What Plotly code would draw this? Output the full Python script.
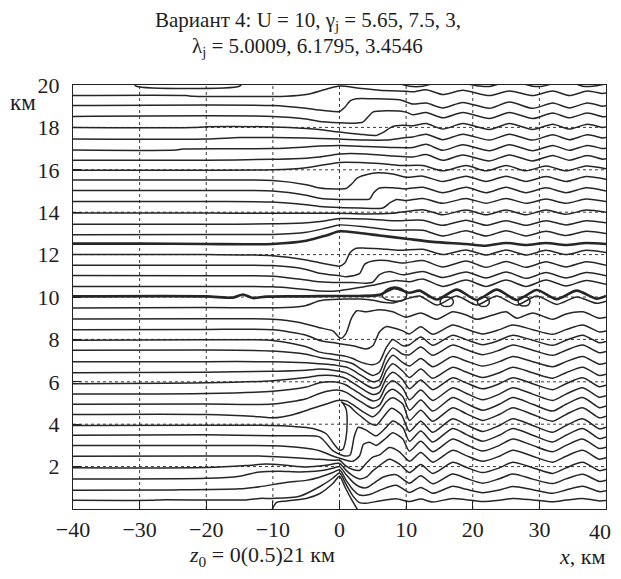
import plotly.graph_objects as go

# ---------------- axes ----------------
X_TICKS = [-40, -30, -20, -10, 0, 10, 20, 30, 40]
Y_TICKS = [2, 4, 6, 8, 10, 12, 14, 16, 18, 20]
GRID_X = [-30, -20, -10, 0, 10, 20, 30]
GRID_Y = [2, 4, 6, 8, 10, 12, 14, 16, 18]

# shared downstream knots (km) used by several streamlines
XD_LOW = [10.5, 12.2, 14, 17, 19, 21.5, 24, 26, 29, 32, 34, 36.5, 39, 40]
XE = [12.5, 15.5, 19, 22, 25, 28, 31, 34, 37, 40]
XGD = [11, 13, 15.5, 18.5, 22.5, 25.5, 29, 32, 34.5, 37.2, 39.5, 40]
NX_LEE = [-40, -20, -10, -5, -3, -1, 0, 1, 2, 3, 4, 5, 6, 7, 8, 9.5]
XF = [-40, -20, -10, -5, -2, 0, 4, 8, 12.5, 15.5, 19, 22, 25, 28, 31, 34, 37, 40]

# ---------------- streamlines near the ground (z0 = 0 ... 2.5) ----------------
s00_x = [-40, -10.2, -10.0, -9.5, -8, -5, -3, -1, 0, 0.8, 1.8, 2.8]
s00_z = [-0.05, -0.05, 0.05, 0.3, 0.38, 0.5, 0.72, 1.2, 1.55, 1.05, 0.45, -0.08]

s05_x = [-40, -28, -27, -14, -12, -10, -6, -3, -1, 0, 1, 2, 3, 4, 6, 8.5]
s05_z = [0.41, 0.41, 0.43, 0.43, 0.5, 0.5, 0.6, 1.05, 1.45, 1.7, 1.15, 0.62, 0.3, 0.27, 0.38, 0.48]
s05_d = [0.35, 0.47, 0.33, 0.5, 0.44, 0.35, 0.41, 0.5, 0.43, 0.34, 0.42, 0.5, 0.38, 0.4]

s10_x = [-40, -25, -15, -12, -8, -5, -3, -1, 0, 1, 2, 3, 4.5, 6, 8.5]
s10_z = [0.89, 0.9, 0.95, 1.05, 1.25, 1.35, 1.5, 1.72, 1.85, 1.35, 0.92, 0.66, 0.68, 0.88, 1.12]
s10_d = [0.78, 1.02, 0.74, 1.07, 0.93, 0.77, 0.9, 1.06, 0.91, 0.74, 0.9, 1.07, 0.82, 0.86]

s15_x = [-40, -20, -15, -12, -9, -6, -3, -1, 0, 1, 2, 3, 4, 5, 6.5, 8.5]
s15_z = [1.42, 1.45, 1.55, 1.75, 1.78, 1.75, 1.8, 1.92, 2.0, 1.62, 1.27, 1.05, 1.0, 1.18, 1.5, 1.62]
s15_d = [1.22, 1.57, 1.19, 1.65, 1.45, 1.22, 1.43, 1.65, 1.41, 1.2, 1.42, 1.64, 1.3, 1.36]

s20_x = [-40, -20, -14, -11, -8, -5, -2, 0, 1, 2, 3, 4, 5, 6, 7.5, 9]
s20_z = [1.94, 1.96, 2.05, 2.12, 2.06, 1.98, 2.06, 2.15, 1.82, 1.56, 1.42, 1.5, 1.8, 2.05, 2.35, 2.12]
s20_d = [1.72, 2.1, 1.68, 2.2, 1.97, 1.72, 1.94, 2.21, 1.95, 1.68, 1.94, 2.2, 1.81, 1.88]

s25_x = [-40, -20, -12, -8, -4, -1, 0, 1, 2, 3, 4, 5, 6, 7.5, 9]
s25_z = [2.49, 2.5, 2.5, 2.44, 2.36, 2.3, 2.3, 2.02, 1.86, 1.82, 2.15, 2.45, 2.55, 2.9, 2.7]
s25_d = [2.25, 2.67, 2.21, 2.77, 2.52, 2.25, 2.49, 2.77, 2.49, 2.21, 2.49, 2.77, 2.35, 2.42]

# ---------------- separation zone (z0 = 3 ... 4.5) ----------------
s30_x = [-40, -20, -10, -6, -3, -1, 0, 1, 2, 3, 3.6, 4.5, 5.5, 7, 8, 9.5]
s30_z = [3.0, 3.0, 2.98, 2.9, 2.75, 2.5, 2.4, 2.3, 2.25, 2.5, 3.05, 3.15, 3.0, 3.35, 3.6, 3.3]
s30_d = [2.73, 3.19, 2.7, 3.3, 3.04, 2.73, 3.0, 3.3, 3.0, 2.7, 3.0, 3.3, 2.85, 2.92]

s35_x = [-40, -20, -10, -6, -3, -1, 0, 0.8, 1.6, 2.2, 2.8, 4, 5.5, 7, 8, 9.5]
s35_z = [3.48, 3.5, 3.45, 3.45, 3.4, 2.75, 2.58, 2.5, 2.55, 3.4, 3.85, 3.72, 3.45, 3.85, 4.15, 3.85]
s35_d = [3.2, 3.68, 3.16, 3.8, 3.52, 3.2, 3.48, 3.8, 3.48, 3.16, 3.48, 3.8, 3.32, 3.4]

s40_x = [-40, -20, -12, -8, -4, -2, -0.8, 0, 0.5, 0.95, 1.15, 1.0, 0.6, 0.3, 0.7, 1.5, 2.5,
         3.5, 4.5, 5.5, 6.5, 7.8, 9.3]
s40_z = [3.94, 3.95, 3.95, 3.92, 3.8, 3.55, 3.05, 2.78, 2.82, 3.3, 4.2, 4.7, 4.95, 5.05, 4.98,
         4.85, 4.55, 4.3, 4.05, 3.95, 4.3, 4.75, 4.45]
s40_d = [3.66, 4.14, 3.62, 4.26, 3.98, 3.66, 3.94, 4.26, 3.94, 3.62, 3.94, 4.26, 3.78, 3.86]

s45_x = [-40, -20, -12, -10, -7, -4, -2, -0.3, 1, 2, 3, 4, 5, 6, 7, 8, 9.5]
s45_z = [4.46, 4.46, 4.35, 4.3, 4.45, 4.75, 4.95, 5.12, 5.1, 4.92, 4.7, 4.5, 4.35, 4.6, 5.05, 5.25, 4.95]
s45_d = [4.18, 4.66, 4.14, 4.78, 4.5, 4.18, 4.46, 4.78, 4.46, 4.14, 4.46, 4.78, 4.3, 4.38]

# ---------------- lee-wave layer (z0 = 5 ... 8.5), knots at NX_LEE ----------------
s50_z = [4.94, 4.95, 4.95, 5.2, 5.45, 5.6, 5.6, 5.5, 5.3, 5.1, 4.9, 4.75, 4.9, 5.45, 5.65, 5.3]
s50_d = [4.66, 5.14, 4.62, 5.26, 4.98, 4.66, 4.94, 5.26, 4.94, 4.62, 4.94, 5.26, 4.78, 4.86]
s55_z = [5.42, 5.45, 5.55, 5.75, 5.95, 6.0, 5.95, 5.85, 5.65, 5.45, 5.25, 5.1, 5.2, 5.8, 6.05, 5.7]
s55_d = [5.15, 5.61, 5.12, 5.72, 5.46, 5.15, 5.42, 5.72, 5.42, 5.12, 5.42, 5.72, 5.27, 5.34]
s60_z = [5.91, 5.95, 6.05, 6.2, 6.3, 6.3, 6.25, 6.15, 5.95, 5.75, 5.55, 5.4, 5.5, 6.15, 6.45, 6.1]
s60_d = [5.67, 6.09, 5.63, 6.19, 5.95, 5.67, 5.91, 6.19, 5.91, 5.63, 5.91, 6.19, 5.77, 5.84]
s65_z = [6.43, 6.45, 6.5, 6.55, 6.6, 6.55, 6.5, 6.42, 6.25, 6.05, 5.85, 5.7, 5.8, 6.5, 6.85, 6.5]
s65_d = [6.2, 6.6, 6.17, 6.69, 6.46, 6.2, 6.43, 6.69, 6.43, 6.17, 6.43, 6.69, 6.3, 6.36]
s70_z = [6.95, 6.95, 6.95, 6.9, 6.85, 6.8, 6.75, 6.7, 6.55, 6.35, 6.15, 6.0, 6.1, 6.85, 7.25, 6.9]
s70_d = [6.74, 7.1, 6.71, 7.19, 6.98, 6.74, 6.95, 7.19, 6.95, 6.71, 6.95, 7.19, 6.83, 6.89]
s75_z = [7.49, 7.5, 7.45, 7.3, 7.15, 7.05, 7.0, 6.95, 6.85, 6.65, 6.45, 6.3, 6.45, 7.2, 7.6, 7.3]
s75_d = [7.28, 7.64, 7.25, 7.73, 7.52, 7.28, 7.49, 7.73, 7.49, 7.25, 7.49, 7.73, 7.37, 7.43]
s80_z = [7.96, 7.98, 7.95, 7.65, 7.4, 7.3, 7.25, 7.2, 7.1, 6.95, 6.85, 6.8, 6.95, 7.6, 8.0, 7.7]
s80_d = [7.75, 8.11, 7.72, 8.2, 7.99, 7.75, 7.96, 8.2, 7.96, 7.72, 7.96, 8.2, 7.84, 7.9]
s85_z = [8.46, 8.47, 8.45, 8.2, 7.95, 7.85, 7.8, 7.75, 7.7, 7.62, 7.55, 7.7, 8.35, 8.6, 8.55, 8.4]
s85_d = [8.26, 8.6, 8.24, 8.68, 8.49, 8.26, 8.46, 8.68, 8.46, 8.24, 8.46, 8.68, 8.35, 8.4]

# ---------------- trapped-wave layer (z0 = 9 ... 10.5) ----------------
s90_x = [-40, -20, -10, -6, -3, -1, 0.2, 1, 1.8, 2.6, 4, 6, 8, 10, 12.2, 14.6, 17, 19, 20.6,
         23, 25, 26.6, 29, 32, 34, 36.5, 39, 40]
s90_z = [8.96, 8.97, 8.95, 8.8, 8.55, 8.4, 8.05, 8.3, 9.0, 9.35, 9.3, 9.4, 9.3, 9.05, 9.25,
         8.95, 9.3, 9.15, 8.95, 9.15, 9.3, 9.0, 9.25, 8.95, 9.2, 9.3, 9.0, 9.05]
s95_x = [-40, -20, -8, -5, -3, -1, 1, 3, 5, 6.5, 8, 10, 12, 14.6, 17.6, 20.6, 23.6, 26.6,
         29.6, 32.6, 35.6, 38.6, 40]
s95_z = [9.48, 9.5, 9.5, 9.6, 9.82, 9.88, 9.9, 9.9, 9.85, 9.75, 9.72, 9.9, 10.05, 9.62,
         10.05, 9.62, 10.05, 9.62, 10.05, 9.65, 10.0, 9.7, 9.8]
s100_x = [-40, -20, -16, -14.5, -13, -11, -5, 0, 3, 6, 8.2, 10.5, 12, 14.6, 17.6, 20.6,
          23.6, 26.6, 29.6, 32.6, 35.6, 38.6, 40]
s100_z = [10.03, 10.03, 9.97, 10.12, 9.95, 10.02, 10.03, 10.05, 10.05, 10.1, 10.42, 10.2,
          10.3, 9.88, 10.35, 9.86, 10.35, 9.86, 10.33, 9.9, 10.3, 9.92, 10.05]
s105_x = [-40, -20, -10, -5, -3, 0, 3, 5, 7, 8.5, 10.5, 12.5, 15.5, 19, 22, 25, 28, 31, 34, 37, 40]
s105_z = [10.5, 10.5, 10.48, 10.35, 10.28, 10.3, 10.45, 10.55, 10.7, 10.78, 10.72, 10.85,
          10.5, 10.8, 10.5, 10.8, 10.5, 10.8, 10.52, 10.78, 10.6]

# closed eddies along the z ~ 10 km line
loop1_x = [6.4, 6.9, 7.8, 8.8, 9.7, 10.1, 9.7, 8.8, 7.8, 6.9, 6.4]
loop1_z = [10.05, 10.3, 10.45, 10.45, 10.3, 10.1, 9.88, 9.8, 9.82, 9.9, 10.05]
loop2_x = [15.1, 15.4, 16.1, 16.8, 17.1, 16.8, 16.1, 15.4, 15.1]
loop2_z = [9.78, 9.95, 10.0, 9.95, 9.78, 9.6, 9.55, 9.6, 9.78]
loop3_x = [20.7, 21.0, 21.6, 22.2, 22.5, 22.2, 21.6, 21.0, 20.7]
loop3_z = [9.78, 9.95, 10.0, 9.95, 9.78, 9.6, 9.55, 9.6, 9.78]
loop4_x = [26.8, 27.1, 27.7, 28.3, 28.6, 28.3, 27.7, 27.1, 26.8]
loop4_z = [9.8, 9.97, 10.02, 9.97, 9.8, 9.62, 9.58, 9.62, 9.8]

# ---------------- middle layer (z0 = 11 ... 12.5) ----------------
s110_x = [-40, -20, -10, -5, -3, 0, 2, 4, 5, 6, 7.5, 9.5]
s110_z = [11.01, 11.0, 10.98, 10.8, 10.72, 10.68, 10.68, 10.65, 10.7, 11.05, 11.2, 11.05]
s110_d = [11.2, 10.92, 11.18, 10.9, 11.18, 10.88, 11.15, 10.9, 11.15, 11.0]
s115_x = [-40, -20, -10, -5, -3, 0, 1, 2, 3, 3.8, 5, 7, 9.5]
s115_z = [11.5, 11.5, 11.48, 11.3, 11.12, 11.0, 10.96, 11.0, 11.1, 11.55, 11.7, 11.72, 11.6]
s115_d = [11.72, 11.42, 11.7, 11.4, 11.68, 11.4, 11.66, 11.42, 11.66, 11.5]
s120_x = [-40, -20, -10, -5, -3, -1, 0, 0.8, 1.6, 2.5, 4, 6, 9]
s120_z = [12.01, 12.0, 11.95, 11.75, 11.62, 11.5, 11.45, 11.6, 12.1, 12.3, 12.3, 12.28, 12.2]
s120_d = [12.25, 12.0, 12.22, 11.98, 12.22, 11.98, 12.2, 12.0, 12.2, 12.1]
s125_x = [-40, -30, -20, -10, -5, -2, 0, 3, 6, 10, 14, 19, 22, 25, 28, 31, 34, 37, 40]
s125_z = [12.52, 12.52, 12.5, 12.5, 12.65, 12.9, 13.1, 13.02, 12.9, 12.75, 12.6, 12.5,
          12.42, 12.55, 12.45, 12.55, 12.45, 12.55, 12.5]

# ---------------- upper-middle layer (z0 = 13 ... 16) ----------------
s130_z = [12.94, 12.95, 12.95, 13.05, 13.25, 13.4, 13.3, 13.15, 13.15, 12.88, 13.12, 12.88,
          13.12, 12.88, 13.1, 12.9, 13.1, 13.0]
s135_z = [13.43, 13.43, 13.45, 13.5, 13.6, 13.7, 13.68, 13.6, 13.62, 13.38, 13.62, 13.38,
          13.6, 13.38, 13.6, 13.4, 13.6, 13.5]
s140_z = [13.96, 13.96, 13.95, 13.95, 13.95, 13.95, 13.92, 13.95, 14.12, 13.88, 14.1, 13.88,
          14.1, 13.88, 14.1, 13.9, 14.1, 14.0]
s145_x = [-40, -20, -10, -5, -3, 0, 3, 6.5, 7.6, 8.6, 10, 12.5, 15.5, 19, 22, 25, 28, 31, 34, 37, 40]
s145_z = [14.5, 14.5, 14.48, 14.35, 14.27, 14.22, 14.2, 14.2, 14.45, 14.6, 14.55, 14.65,
          14.42, 14.65, 14.42, 14.65, 14.42, 14.62, 14.42, 14.62, 14.5]
s150_x = [-40, -20, -10, -5, -3, 0, 3, 4.5, 5.1, 6, 8, 10, 12.5, 15.5, 19, 22, 25, 28, 31, 34, 37, 40]
s150_z = [15.02, 15.02, 15.0, 14.8, 14.66, 14.6, 14.6, 14.62, 14.9, 15.14, 15.15, 15.1,
          15.18, 14.92, 15.18, 14.92, 15.18, 14.92, 15.15, 14.92, 15.15, 15.0]
s155_x = [-40, -20, -10, -5, -3, 0, 1, 1.9, 2.6, 5, 8, 10, 12.5, 15.5, 19, 22, 25, 28, 31, 34, 37, 40]
s155_z = [15.52, 15.52, 15.5, 15.3, 15.14, 15.1, 15.12, 15.35, 15.6, 15.84, 15.8, 15.65,
          15.7, 15.45, 15.7, 15.45, 15.7, 15.45, 15.68, 15.45, 15.68, 15.55]
s160_x = [-40, -20, -10, -5, -3, 0, 3, 6, 9, 12.5, 15.5, 19, 22, 25, 28, 31, 34, 37, 40]
s160_z = [15.98, 15.98, 16.0, 16.1, 16.2, 16.35, 16.35, 16.3, 16.2, 16.2, 15.95, 16.2,
          15.95, 16.2, 15.95, 16.18, 15.95, 16.18, 16.05]

# ---------------- upper layer (z0 = 16.5 ... 20) ----------------
s165_x = [-40, -20, -10, -5, -3, 0, 4, 8]
s165_z = [16.45, 16.45, 16.5, 16.55, 16.6, 16.75, 16.75, 16.65]
s165_d = [16.6, 16.72, 16.45, 16.7, 16.42, 16.7, 16.42, 16.68, 16.45, 16.68, 16.5, 16.52]
s170_x = [-40, -24.5, -23.5, -10, -5, -3, 0, 4, 8]
s170_z = [16.93, 16.93, 16.98, 17.0, 17.08, 17.12, 17.15, 17.1, 17.05]
s170_d = [17.05, 17.2, 16.92, 17.18, 16.9, 17.18, 16.9, 17.15, 16.92, 17.15, 17.0, 17.02]
s175_x = [-40, -20, -15, -10, -5, -3, 0, 4, 7, 9.5]
s175_z = [17.45, 17.45, 17.52, 17.52, 17.5, 17.48, 17.45, 17.4, 17.4, 17.5]
s175_d = [17.55, 17.68, 17.42, 17.68, 17.4, 17.68, 17.4, 17.65, 17.42, 17.65, 17.5, 17.52]
s180_x = [-40, -22, -20, -10, -5, -3, 0, 3, 5.5, 6.5, 8, 9.5]
s180_z = [17.99, 17.99, 18.03, 18.02, 17.95, 17.9, 17.78, 17.68, 17.62, 17.75, 18.05, 18.1]
s180_d = [18.08, 18.18, 17.92, 18.18, 17.9, 18.18, 17.9, 18.15, 17.92, 18.15, 18.0, 18.02]
s185_x = [-40, -10, -5, -3, 0, 2, 3.5, 4.3, 5, 7, 10]
s185_z = [18.52, 18.52, 18.4, 18.28, 18.22, 18.2, 18.25, 18.5, 18.72, 18.78, 18.72]
s185_d = [18.6, 18.7, 18.45, 18.7, 18.42, 18.7, 18.42, 18.68, 18.45, 18.68, 18.5, 18.52]
s190_x = [-40, -10, -5, -3, -1, 0, 0.8, 1.6, 2.5, 5, 9]
s190_z = [19.03, 19.03, 18.9, 18.82, 18.75, 18.75, 18.95, 19.25, 19.35, 19.35, 19.3]
s190_d = [19.1, 19.15, 18.92, 19.18, 18.9, 19.2, 18.9, 19.15, 18.92, 19.15, 19.0, 19.02]
s195_x = [-40, -23, -22, -8, -5, -2, 0, 3, 6, 10]
s195_z = [19.5, 19.5, 19.47, 19.47, 19.55, 19.8, 19.95, 19.85, 19.75, 19.7]
s195_d = [19.68, 19.78, 19.55, 19.75, 19.5, 19.72, 19.5, 19.72, 19.5, 19.72, 19.6, 19.62]
s200_x = [-40, -31, -30.5, -15, -14.5, -5, 0, 5, 9, 10.5, 12.5, 14, 18, 21, 22.5, 24, 27,
          29, 30.5, 32, 35, 36.5, 38, 40]
s200_z = [20.1, 20.1, 19.94, 19.94, 20.1, 20.3, 20.4, 20.2, 20.05, 19.94, 19.94, 20.05, 20.1,
          19.95, 19.93, 20.05, 20.1, 19.94, 19.94, 20.05, 20.1, 19.94, 19.94, 20.05]

# ---------------- assemble (x, z, width) ----------------
THIN, THICK = 1.5, 2.6
lines = [
    (s00_x, s00_z, THIN),
    (s05_x + XD_LOW, s05_z + s05_d, THIN),
    (s10_x + XD_LOW, s10_z + s10_d, THIN),
    (s15_x + XD_LOW, s15_z + s15_d, THIN),
    (s20_x + XD_LOW, s20_z + s20_d, THIN),
    (s25_x + XD_LOW, s25_z + s25_d, THIN),
    (s30_x + XD_LOW, s30_z + s30_d, THIN),
    (s35_x + XD_LOW, s35_z + s35_d, THIN),
    (s40_x + XD_LOW, s40_z + s40_d, THIN),
    (s45_x + XD_LOW, s45_z + s45_d, THIN),
]
for zz, dd in [(s50_z, s50_d), (s55_z, s55_d), (s60_z, s60_d), (s65_z, s65_d),
               (s70_z, s70_d), (s75_z, s75_d), (s80_z, s80_d), (s85_z, s85_d)]:
    lines.append((NX_LEE + XD_LOW, zz + dd, THIN))
lines += [
    (s90_x, s90_z, THIN),
    (s95_x, s95_z, THIN),
    (s100_x, s100_z, THICK),
    (s105_x, s105_z, THIN),
    (loop1_x, loop1_z, THIN),
    (loop2_x, loop2_z, THIN),
    (loop3_x, loop3_z, THIN),
    (loop4_x, loop4_z, THIN),
    (s110_x + XE, s110_z + s110_d, THIN),
    (s115_x + XE, s115_z + s115_d, THIN),
    (s120_x + XE, s120_z + s120_d, THIN),
    (s125_x, s125_z, THICK),
    (XF, s130_z, THIN),
    (XF, s135_z, THIN),
    (XF, s140_z, THIN),
    (s145_x, s145_z, THIN),
    (s150_x, s150_z, THIN),
    (s155_x, s155_z, THIN),
    (s160_x, s160_z, THIN),
    (s165_x + XGD, s165_z + s165_d, THIN),
    (s170_x + XGD, s170_z + s170_d, THIN),
    (s175_x + XGD, s175_z + s175_d, THIN),
    (s180_x + XGD, s180_z + s180_d, THIN),
    (s185_x + XGD, s185_z + s185_d, THIN),
    (s190_x + XGD, s190_z + s190_d, THIN),
    (s195_x + XGD, s195_z + s195_d, THIN),
    (s200_x, s200_z, THIN),
]

LINE_COLOR = "#262626"
FONT = "Liberation Serif"
TXT = "#1e1e1e"

fig = go.Figure()
for xs, zs, w in lines:
    fig.add_trace(go.Scatter(
        x=xs, y=zs, mode="lines",
        line=dict(color=LINE_COLOR, width=w, shape="spline", smoothing=0.7),
        hoverinfo="skip", showlegend=False))

# the page adds an 8px body margin: a 605x563 figure fills the 621x579 window
fig.update_layout(
    width=605, height=563,
    margin=dict(l=65, r=7, t=77, b=62),
    paper_bgcolor="white", plot_bgcolor="white",
    font=dict(family=FONT, size=21, color=TXT),
    showlegend=False,
)
# the last x label ("40") sits on the right edge, so it is drawn as a note below
x_labels = [("\u2212" + str(-v)) if v < 0 else str(v) for v in X_TICKS]
fig.update_xaxes(
    range=[-40, 40], tickvals=X_TICKS, ticktext=x_labels[:-1] + [""],
    ticks="inside", ticklen=8, tickcolor="#222", tickwidth=1,
    showline=True, linecolor="#222", linewidth=1.3, mirror=True,
    showgrid=False, zeroline=False, ticklabelstandoff=0,
    tickfont=dict(family=FONT, size=22, color=TXT),
)
fig.update_yaxes(
    range=[0, 20], tickvals=Y_TICKS, ticks="inside", ticklen=8, tickcolor="#222", tickwidth=1,
    showline=True, linecolor="#222", linewidth=1.3, mirror=True,
    showgrid=False, zeroline=False, ticklabelstandoff=8,
    tickfont=dict(family=FONT, size=22, color=TXT),
)

# dotted grid
for gx in GRID_X:
    fig.add_shape(type="line", xref="x", yref="y", x0=gx, x1=gx, y0=0, y1=20,
                  line=dict(color="#3a3a3a", width=1, dash="dot"), layer="below")
for gy in GRID_Y:
    fig.add_shape(type="line", xref="x", yref="y", x0=-40, x1=40, y0=gy, y1=gy,
                  line=dict(color="#3a3a3a", width=1, dash="dot"), layer="below")

def note(x, y, text, size=21, xanchor="center", yanchor="middle"):
    fig.add_annotation(xref="paper", yref="paper", x=x, y=y, text=text, showarrow=False,
                       xanchor=xanchor, yanchor=yanchor,
                       font=dict(family=FONT, size=size, color=TXT))

note(0.44, 1.152, "Вариант 4: U = 10, γ<sub>j</sub> = 5.65, 7.5, 3,")
note(0.44, 1.090, "λ<sub>j</sub> = 5.0009, 6.1795, 3.4546")
note(-0.066, 0.958, "км", size=23, xanchor="right")
note(1.0128, -0.052, x_labels[-1], size=22, xanchor="right")
note(0.355, -0.112, "<i>z</i><sub>0</sub> = 0(0.5)21 км", size=22)
note(0.955, -0.112, "<i>x</i>, км", size=22)

fig.write_html("out.html")
